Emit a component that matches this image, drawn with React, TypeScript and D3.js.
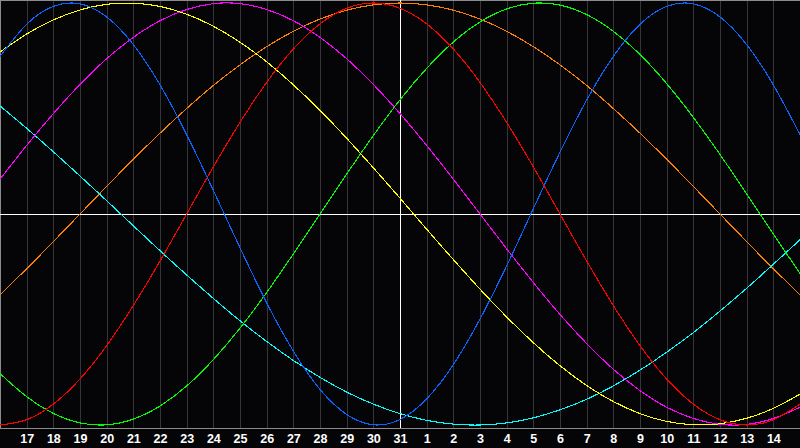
import React, { useEffect, useRef } from "react";
import * as d3 from "d3";

// days shown along the bottom (first and last sit on the frame edges, unlabeled)
const days = [
  "16", "17", "18", "19", "20", "21", "22", "23", "24", "25", "26", "27", "28", "29", "30", "31",
  "1", "2", "3", "4", "5", "6", "7", "8", "9", "10", "11", "12", "13", "14", "15",
];
const todayIndex = 15; // the "31" line

// daily cycle values, -1 .. 1
const physical = [
  0.747, 0.899, 0.984, 0.996, 0.934, 0.803, 0.612, 0.376, 0.112, -0.160, -0.421, -0.650, -0.831, -0.950, -0.999, -0.974,
  -0.876, -0.714, -0.498, -0.246, 0.025, 0.293, 0.540, 0.747, 0.899, 0.984, 0.996, 0.934, 0.803, 0.612, 0.376,
];
const emotional = [
  -1.0, -0.975, -0.901, -0.782, -0.624, -0.434, -0.223, 0.0, 0.223, 0.434, 0.624, 0.782, 0.901, 0.975, 1.0, 0.975,
  0.901, 0.782, 0.624, 0.434, 0.223, 0.0, -0.223, -0.434, -0.624, -0.782, -0.901, -0.975, -1.0, -0.975, -0.901,
];
const intellectual = [
  -0.756, -0.866, -0.945, -0.990, -0.999, -0.972, -0.910, -0.815, -0.690, -0.541, -0.372, -0.189, 0.0, 0.189, 0.372, 0.541,
  0.690, 0.815, 0.910, 0.972, 0.999, 0.990, 0.945, 0.866, 0.756, 0.618, 0.458, 0.282, 0.095, -0.095, -0.282,
];
const intuitive = [
  0.165, 0.325, 0.476, 0.614, 0.736, 0.837, 0.916, 0.969, 0.997, 0.997, 0.969, 0.916, 0.837, 0.736, 0.614, 0.476,
  0.325, 0.165, 0.0, -0.165, -0.325, -0.476, -0.614, -0.736, -0.837, -0.916, -0.969, -0.997, -0.997, -0.969, -0.916,
];
const aesthetic = [
  0.768, 0.853, 0.920, 0.967, 0.994, 0.999, 0.984, 0.947, 0.890, 0.814, 0.721, 0.612, 0.491, 0.359, 0.219, 0.075,
  -0.072, -0.216, -0.356, -0.488, -0.610, -0.719, -0.813, -0.889, -0.946, -0.983, -0.999, -0.994, -0.968, -0.921, -0.854,
];
const awareness = [
  -0.383, -0.259, -0.131, 0.0, 0.131, 0.259, 0.383, 0.5, 0.609, 0.707, 0.793, 0.866, 0.924, 0.966, 0.991, 1.0,
  0.991, 0.966, 0.924, 0.866, 0.793, 0.707, 0.609, 0.5, 0.383, 0.259, 0.131, 0.0, -0.131, -0.259, -0.383,
];
const spiritual = [
  0.512, 0.406, 0.295, 0.180, 0.063, -0.056, -0.174, -0.289, -0.400, -0.506, -0.604, -0.694, -0.774, -0.844, -0.901, -0.946,
  -0.978, -0.996, -1.0, -0.990, -0.966, -0.928, -0.878, -0.815, -0.740, -0.655, -0.562, -0.460, -0.352, -0.238, -0.122,
];

const seriesList = [
  { name: "Awareness", values: awareness, color: "#ff8000" },
  { name: "Spiritual", values: spiritual, color: "#00ffff" },
  { name: "Intellectual", values: intellectual, color: "#00ff00" },
  { name: "Aesthetic", values: aesthetic, color: "#ffff00" },
  { name: "Intuitive", values: intuitive, color: "#ff00ff" },
  { name: "Emotional", values: emotional, color: "#ff0000" },
  { name: "Physical", values: physical, color: "#0a64ff" },
];

const App: React.FC = () => {
  const svgRef = useRef<SVGSVGElement>(null);

  useEffect(() => {
    if (!svgRef.current) return;
    const svg = d3.select(svgRef.current);
    svg.selectAll("*").remove();

    const width = 800;
    const height = 448;
    const plotBottom = 428;

    svg.append("rect").attr("width", width).attr("height", height).attr("fill", "#050508");

    const x = d3.scalePoint<string>().domain(days).range([0, width]);
    const y = d3.scaleLinear().domain([-1, 1]).range([425, 3]);

    // vertical day grid
    svg
      .append("g")
      .selectAll("line")
      .data(days.slice(1, days.length - 1))
      .enter()
      .append("line")
      .attr("x1", (d) => Math.round(x(d) || 0) + 0.5)
      .attr("x2", (d) => Math.round(x(d) || 0) + 0.5)
      .attr("y1", 0)
      .attr("y2", plotBottom)
      .attr("stroke", "#36363a")
      .attr("shape-rendering", "crispEdges");

    // frame: top, left, bottom
    const frame = svg.append("g").attr("stroke", "#8c8c8c").attr("shape-rendering", "crispEdges");
    frame.append("line").attr("x1", 0).attr("x2", width).attr("y1", 0.5).attr("y2", 0.5);
    frame.append("line").attr("x1", 0.5).attr("x2", 0.5).attr("y1", 0).attr("y2", plotBottom);
    frame.append("line").attr("x1", 0).attr("x2", width).attr("y1", plotBottom + 0.5).attr("y2", plotBottom + 0.5);

    // zero line and today line
    const zeroY = Math.round(y(0)) + 0.5;
    svg
      .append("line")
      .attr("x1", 0)
      .attr("x2", width)
      .attr("y1", zeroY)
      .attr("y2", zeroY)
      .attr("stroke", "#ffffff")
      .attr("shape-rendering", "crispEdges");
    const todayX = Math.round(x(days[todayIndex]) || 0) + 0.5;
    svg
      .append("line")
      .attr("x1", todayX)
      .attr("x2", todayX)
      .attr("y1", 0)
      .attr("y2", plotBottom)
      .attr("stroke", "#ffffff")
      .attr("shape-rendering", "crispEdges");

    // cycle curves
    const line = d3
      .line<number>()
      .x((_, i) => x(days[i]) || 0)
      .y((v) => y(v))
      .curve(d3.curveNatural);

    svg
      .append("g")
      .selectAll("path")
      .data(seriesList)
      .enter()
      .append("path")
      .attr("d", (s) => line(s.values))
      .attr("fill", "none")
      .attr("stroke", (s) => s.color)
      .attr("stroke-width", 1.1)
      .attr("shape-rendering", "crispEdges");

    // day labels
    const axis = svg
      .append("g")
      .attr("transform", `translate(0,${plotBottom})`)
      .call(
        d3
          .axisBottom(x)
          .tickValues(days.slice(1, days.length - 1))
          .tickSize(0)
          .tickPadding(6)
      );
    axis.select(".domain").remove();
    axis
      .selectAll("text")
      .attr("fill", "#ffffff")
      .style("font-family", "'Liberation Sans', Arial, sans-serif")
      .style("font-size", "12.5px")
      .style("font-weight", "bold");
  }, []);

  return (
    <svg
      ref={svgRef}
      width={800}
      height={448}
      style={{ position: "fixed", left: 0, top: 0, display: "block" }}
    />
  );
};

export default App;
